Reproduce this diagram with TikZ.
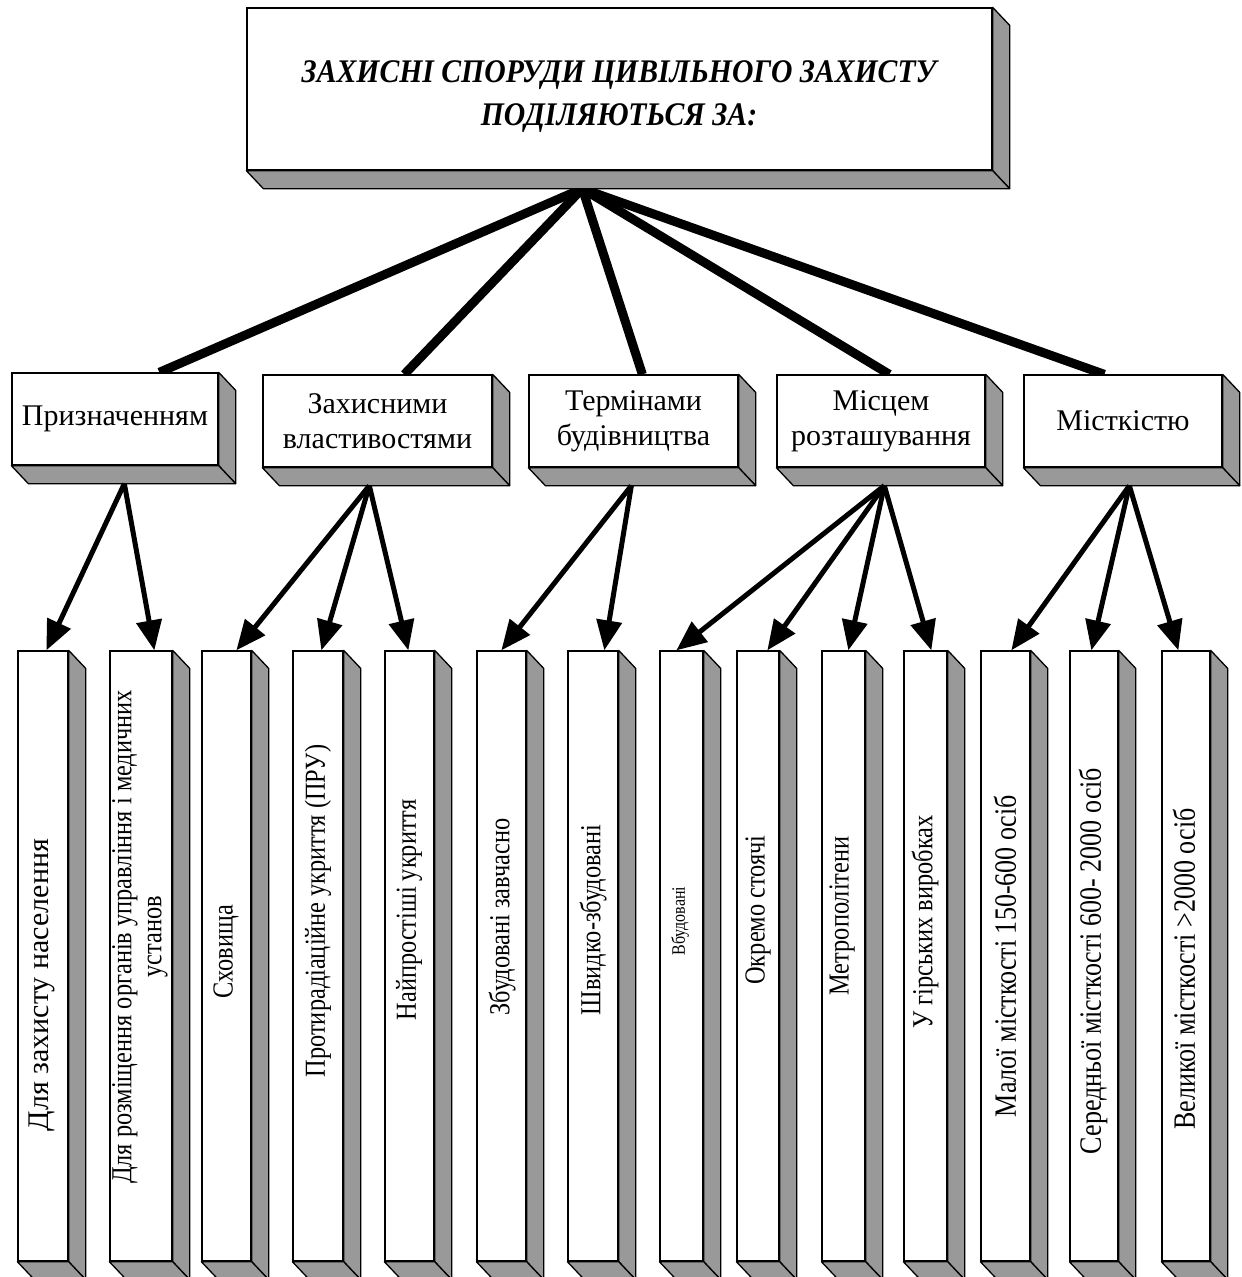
\documentclass[tikz,border=0pt]{standalone}
\usepackage{fontspec}
\setmainfont{Liberation Serif}
\newfontfamily\titlefont[FakeStretch=0.9]{Liberation Serif}
\newfontfamily\vertfont[FakeStretch=0.84]{Liberation Serif}
\usetikzlibrary{arrows.meta,calc}
\pgfdeclarelayer{bg}
\pgfsetlayers{bg,main}
\definecolor{shadegrey}{RGB}{153,153,153}
\tikzset{
  face/.style={draw=black, line width=1.3pt, fill=white, inner sep=0pt, align=center},
  side/.style={draw=black, line width=1.3pt, fill=shadegrey, line join=round},
  trunk/.style={line width=9pt},
  branch/.style={line width=5pt, -{Triangle[length=30pt,width=25pt]}},
  titletext/.style={align=center, inner sep=0pt, font=\titlefont\fontsize{33}{43}\selectfont\bfseries\itshape},
  midtext/.style={font=\fontsize{30}{35}\selectfont},
  vtext/.style={rotate=90, align=center, inner sep=0pt, font=\vertfont\fontsize{29}{30}\selectfont},
  vtextbig/.style={vtext, font=\vertfont\fontsize{31}{30}\selectfont},
}
\newcommand\boxthreed[7][]{%
  \node[face, #1, minimum width={#5pt-#3pt}, minimum height={#6pt-#4pt}] (#2) at ({(#3+#5)/2},{(#4+#6)/2}) {#7};
  \draw[side] (#2.north east) -- ++(17,18) -- ($(#2.south east)+(17,18)$) -- (#2.south east) -- cycle;
  \draw[side] (#2.south west) -- ++(17,18) -- ($(#2.south east)+(17,18)$) -- (#2.south east) -- cycle;
}
\begin{document}
\begin{tikzpicture}[x=1pt, y=-1pt]
\useasboundingbox (0,0) rectangle (1242,1277);
% title
\boxthreed{top}{247}{8}{992}{170}{}
\node[titletext] (title) at (619,97) {ЗАХИСНІ СПОРУДИ ЦИВІЛЬНОГО ЗАХИСТУ\\ ПОДІЛЯЮТЬСЯ ЗА:};
% middle level
\boxthreed[midtext]{m1}{12}{373}{218}{465}{Призначенням}
\boxthreed[midtext]{m2}{263}{375}{492}{467}{Захисними\\ властивостями}
\boxthreed[midtext]{m3}{529}{375}{738}{467}{Термінами\\ будівництва}
\boxthreed[midtext]{m4}{777}{375}{985}{467}{Місцем\\ розташування}
\boxthreed[midtext]{m5}{1024}{375}{1222}{467}{Місткістю}
% bottom level
\boxthreed{b1}{18}{651}{68}{1261}{}
\boxthreed{b2}{110}{651}{172}{1261}{}
\boxthreed{b3}{202}{651}{251}{1261}{}
\boxthreed{b4}{293}{651}{343}{1261}{}
\boxthreed{b5}{385}{651}{434}{1261}{}
\boxthreed{b6}{477}{651}{526}{1261}{}
\boxthreed{b7}{568}{651}{618}{1261}{}
\boxthreed{b8}{660}{651}{703}{1261}{}
\boxthreed{b9}{737}{651}{779}{1261}{}
\boxthreed{b10}{822}{651}{865}{1261}{}
\boxthreed{b11}{904}{651}{947}{1261}{}
\boxthreed{b12}{981}{651}{1030}{1261}{}
\boxthreed{b13}{1070}{651}{1118}{1261}{}
\boxthreed{b14}{1162}{651}{1210}{1261}{}
% vertical texts
\node[vtext, font=\fontsize{30}{30}\selectfont] (t1) at (42,985) {Для захисту населення};
\node[vtext] (t2) at (140,937) {Для розміщення органів управління і медичних\\ установ};
\node[vtext] (t3) at (226,952) {Сховища};
\node[vtext] (t4) at (318,911) {Протирадіаційне укриття (ПРУ)};
\node[vtext] (t5) at (409,910) {Найпростіші укриття};
\node[vtext] (t6) at (502,917) {Збудовані завчасно};
\node[vtext] (t7) at (593,920) {Швидко-збудовані};
\node[vtext, font=\vertfont\fontsize{19}{20}\selectfont] (t8) at (680,921) {Вбудовані};
\node[vtext] (t9) at (758,910) {Окремо стоячі};
\node[vtext] (t10) at (842,916) {Метрополітени};
\node[vtext] (t11) at (925,922) {У гірських виробках};
\node[vtextbig] (t12) at (1005,956) {Малої місткості 150-600 осіб};
\node[vtextbig] (t13) at (1093,961) {Середньої місткості 600- 2000 осіб};
\node[vtextbig] (t14) at (1184,969) {Великої місткості >2000 осіб};
% connector origins
\coordinate (o0) at ([xshift=336pt,yshift=-18pt]top.south west);
\coordinate (o1) at ([xshift=113pt,yshift=-18pt]m1.south west);
\coordinate (o2) at ([xshift=107pt,yshift=-18pt]m2.south west);
\coordinate (o3) at ([xshift=103pt,yshift=-18pt]m3.south west);
\coordinate (o4) at ([xshift=108pt,yshift=-18pt]m4.south west);
\coordinate (o5) at ([xshift=106pt,yshift=-18pt]m5.south west);
\begin{pgfonlayer}{bg}
  \draw[trunk] (o0) -- ([xshift=148pt]m1.north west);
  \draw[trunk] (o0) -- ([xshift=142pt]m2.north west);
  \draw[trunk] (o0) -- ([xshift=114pt]m3.north west);
  \draw[trunk] (o0) -- ([xshift=113pt]m4.north west);
  \draw[trunk] (o0) -- ([xshift=81pt]m5.north west);
\end{pgfonlayer}
\draw[branch] (o1) -- ([xshift=29pt]b1.north west);
\draw[branch] (o1) -- ([xshift=45pt]b2.north west);
\draw[branch] (o2) -- ([xshift=35pt]b3.north west);
\draw[branch] (o2) -- ([xshift=29pt]b4.north west);
\draw[branch] (o2) -- ([xshift=24pt]b5.north west);
\draw[branch] (o3) -- ([xshift=25pt]b6.north west);
\draw[branch] (o3) -- ([xshift=37pt]b7.north west);
\draw[branch] (o4) -- ([xshift=17pt]b8.north west);
\draw[branch] (o4) -- ([xshift=31pt]b9.north west);
\draw[branch] (o4) -- ([xshift=27pt]b10.north west);
\draw[branch] (o4) -- ([xshift=28pt]b11.north west);
\draw[branch] (o5) -- ([xshift=31pt]b12.north west);
\draw[branch] (o5) -- ([xshift=22pt]b13.north west);
\draw[branch] (o5) -- ([xshift=17pt]b14.north west);
\end{tikzpicture}
\end{document}
